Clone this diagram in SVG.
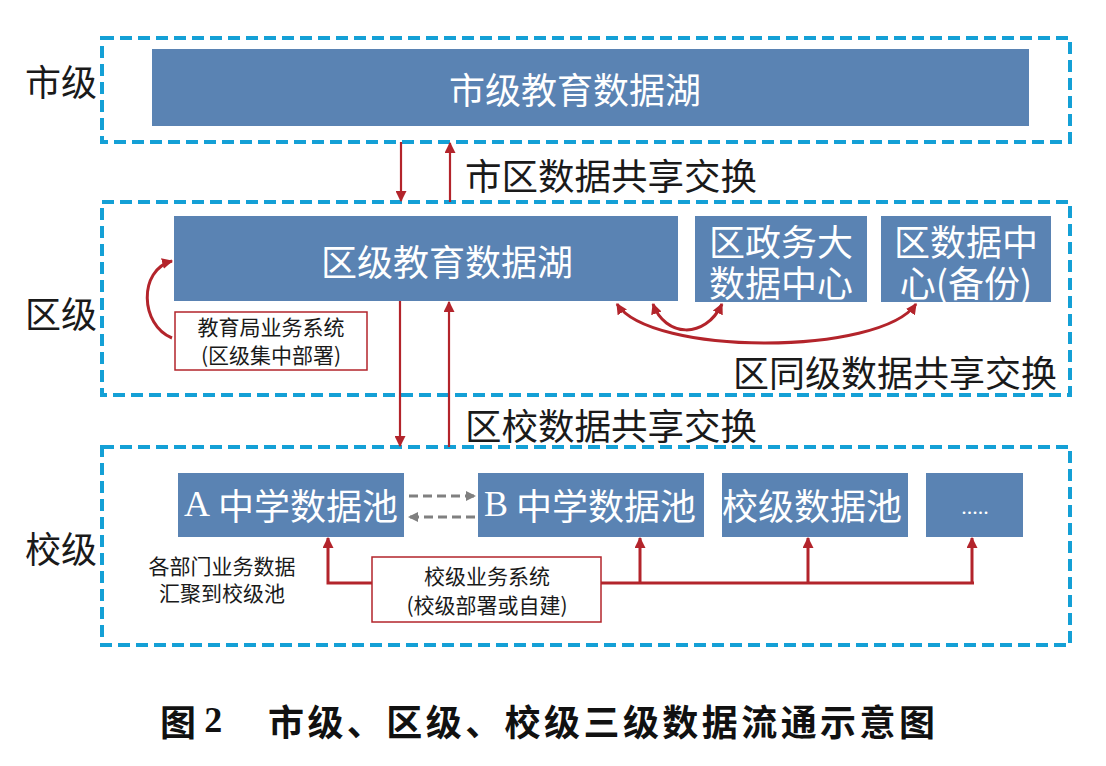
<svg xmlns="http://www.w3.org/2000/svg" width="1106" height="766" viewBox="0 0 1106 766">
<defs>
<style>
.zone{fill:none;stroke:#14a0d6;stroke-width:4;stroke-dasharray:12 6}
.node{fill:#5a83b3}
.wt{fill:#fff;font-family:"Noto Sans CJK SC",sans-serif;font-size:36px;text-anchor:middle;dominant-baseline:central}
.bt{fill:#1a1a1a;font-family:"Noto Sans CJK SC",sans-serif;text-anchor:middle;dominant-baseline:central}
.rbox{fill:#fff;stroke:#b3242b;stroke-width:1.5}
.red{fill:none;stroke:#b3242b;stroke-width:2.2}
.redb{fill:none;stroke:#b3242b;stroke-width:3}
.gray{fill:none;stroke:#808080;stroke-width:3;stroke-dasharray:9 5}
</style>
<marker id="arr" viewBox="0 0 10 10" refX="9" refY="5" markerWidth="11" markerHeight="11" orient="auto-start-reverse" markerUnits="userSpaceOnUse">
<path d="M0,0 L10,5 L0,10 z" fill="#b3242b"/>
</marker>
<marker id="ag" viewBox="0 0 10 10" refX="9" refY="5" markerWidth="10" markerHeight="10" orient="auto-start-reverse" markerUnits="userSpaceOnUse">
<path d="M0,0 L10,5 L0,10 z" fill="#808080"/>
</marker>
</defs>
<rect width="1106" height="766" fill="#fff"/>

<g id="zones">
<rect class="zone" x="102" y="38" width="968" height="104"/>
<rect class="zone" x="102" y="202" width="968" height="193"/>
<rect class="zone" x="102" y="447" width="968" height="198"/>
</g>

<g id="level-labels">
<text class="bt" x="61" y="80" font-size="36">市级</text>
<text class="bt" x="61" y="312" font-size="36">区级</text>
<text class="bt" x="61" y="547" font-size="36">校级</text>
</g>

<g id="city-lake">
<rect class="node" x="152" y="49" width="877" height="77"/>
<text class="wt" x="575" y="88">市级教育数据湖</text>
</g>

<g id="district-lake">
<rect class="node" x="174" y="216" width="504" height="85"/>
<text class="wt" x="447" y="260">区级教育数据湖</text>
</g>

<g id="gov-center">
<rect class="node" x="695" y="216" width="172" height="86"/>
<text class="wt" x="781" y="240" font-size="35">区政务大</text>
<text class="wt" x="781" y="281" font-size="35">数据中心</text>
</g>

<g id="backup-center">
<rect class="node" x="881" y="216" width="170" height="86"/>
<text class="wt" x="966" y="240" font-size="35">区数据中</text>
<text class="wt" x="966" y="281" font-size="35">心(备份)</text>
</g>

<g id="edu-bureau-system">
<rect class="rbox" x="175" y="312" width="192" height="58"/>
<text class="bt" x="271" y="326" font-size="21">教育局业务系统</text>
<text class="bt" x="271" y="354" font-size="21">(区级集中部署)</text>
</g>

<g id="pool-a">
<rect class="node" x="178" y="473" width="226" height="64"/>
<text class="wt" x="291" y="504"><tspan font-family="Liberation Serif">A</tspan> 中学数据池</text>
</g>
<g id="pool-b">
<rect class="node" x="478" y="473" width="226" height="64"/>
<text class="wt" x="590" y="504"><tspan font-family="Liberation Serif">B</tspan> 中学数据池</text>
</g>
<g id="pool-school">
<rect class="node" x="722" y="473" width="186" height="64"/>
<text class="wt" x="812" y="504">校级数据池</text>
</g>
<g id="pool-more">
<rect class="node" x="926" y="473" width="97" height="64"/>
<text x="975" y="514" fill="#fff" font-family="Liberation Serif, serif" font-size="22" text-anchor="middle">.....</text>
</g>

<g id="school-system">
<rect class="rbox" x="372" y="557" width="229" height="65"/>
<text class="bt" x="487" y="575" font-size="21">校级业务系统</text>
<text class="bt" x="487" y="604" font-size="21">(校级部署或自建)</text>
</g>

<g id="dept-note">
<text class="bt" x="222" y="565" font-size="21">各部门业务数据</text>
<text class="bt" x="222" y="592" font-size="21">汇聚到校级池</text>
</g>

<g id="connectors">
<line class="red" x1="401" y1="142" x2="401" y2="201" marker-end="url(#arr)"/>
<line class="red" x1="450" y1="202" x2="450" y2="143" marker-end="url(#arr)"/>
<line class="red" x1="400" y1="301" x2="400" y2="446" marker-end="url(#arr)"/>
<line class="red" x1="449" y1="447" x2="449" y2="302" marker-end="url(#arr)"/>
<path class="redb" d="M172 338 C140 325, 138 270, 172 261" marker-end="url(#arr)"/>
<path class="redb" d="M653 304 C665 337, 705 340, 722 304" marker-start="url(#arr)" marker-end="url(#arr)"/>
<path class="redb" d="M617 304 C650 356, 880 356, 916 304" marker-start="url(#arr)" marker-end="url(#arr)"/>
<line class="gray" x1="409" y1="496" x2="475" y2="496" marker-end="url(#ag)"/>
<line class="gray" x1="475" y1="517" x2="409" y2="517" marker-end="url(#ag)"/>
<polyline class="redb" points="372,583 328,583 328,538" marker-end="url(#arr)"/>
<line class="redb" x1="601" y1="583" x2="974" y2="583"/>
<line class="redb" x1="640" y1="583" x2="640" y2="538" marker-end="url(#arr)"/>
<line class="redb" x1="808" y1="583" x2="808" y2="538" marker-end="url(#arr)"/>
<line class="redb" x1="972" y1="584" x2="972" y2="538" marker-end="url(#arr)"/>
</g>

<g id="exchange-labels">
<text class="bt" x="611" y="174" font-size="36.5">市区数据共享交换</text>
<text class="bt" x="895" y="371" font-size="36">区同级数据共享交换</text>
<text class="bt" x="611" y="424" font-size="36.5">区校数据共享交换</text>
</g>

<g id="caption" fill="#111" font-family="Noto Sans CJK SC, sans-serif" font-weight="bold" font-size="36">
<text x="160" y="720" dominant-baseline="central">图 <tspan font-family="Liberation Serif">2</tspan></text>
<text x="268" y="720" dominant-baseline="central" textLength="667" lengthAdjust="spacing">市级、区级、校级三级数据流通示意图</text>
</g>
</svg>
